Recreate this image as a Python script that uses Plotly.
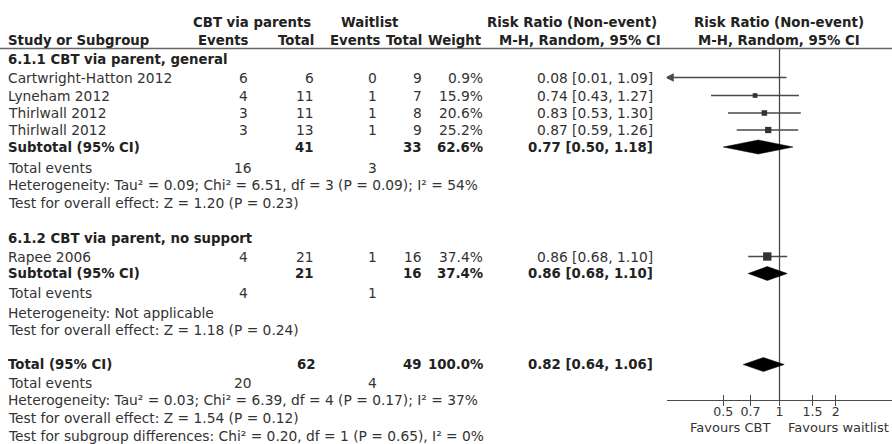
import math
import plotly.graph_objects as go

# ---------------- data ----------------
group_titles = ["6.1.1 CBT via parent, general", "6.1.2 CBT via parent, no support"]
studies = ["Cartwright-Hatton 2012", "Lyneham 2012", "Thirlwall 2012", "Thirlwall 2012", "Rapee 2006"]
cbt_events = [6, 4, 3, 3, 4]
cbt_total = [6, 11, 11, 13, 21]
wl_events = [0, 1, 1, 1, 1]
wl_total = [9, 7, 8, 9, 16]
weights = [0.9, 15.9, 20.6, 25.2, 37.4]
rr = [0.08, 0.74, 0.83, 0.87, 0.86]
rr_lo = [0.01, 0.43, 0.53, 0.59, 0.68]
rr_hi = [1.09, 1.27, 1.30, 1.26, 1.10]

sub_cbt_total = [41, 21]
sub_wl_total = [33, 16]
sub_weight = [62.6, 37.4]
sub_rr = [0.77, 0.86]
sub_lo = [0.50, 0.68]
sub_hi = [1.18, 1.10]
sub_cbt_events = [16, 4]
sub_wl_events = [3, 1]
sub_het = ["Heterogeneity: Tau² = 0.09; Chi² = 6.51, df = 3 (P = 0.09); I² = 54%",
           "Heterogeneity: Not applicable"]
sub_test = ["Test for overall effect: Z = 1.20 (P = 0.23)",
            "Test for overall effect: Z = 1.18 (P = 0.24)"]

tot_cbt_total = 62
tot_wl_total = 49
tot_weight = 100.0
tot_rr, tot_lo, tot_hi = 0.82, 0.64, 1.06
tot_cbt_events = 20
tot_wl_events = 4
tot_het = "Heterogeneity: Tau² = 0.03; Chi² = 6.39, df = 4 (P = 0.17); I² = 37%"
tot_test = "Test for overall effect: Z = 1.54 (P = 0.12)"
tot_subgroup = "Test for subgroup differences: Chi² = 0.20, df = 1 (P = 0.65), I² = 0%"

tick_vals = [0.5, 0.7, 1, 1.5, 2]
tick_text = ["0.5", "0.7", "1", "1.5", "2"]
favours = ["Favours CBT", "Favours waitlist"]
axis_range = [0.25, 4]

# ---------------- layout (pixel rows / columns) ----------------
W, H = 892, 444
FONT = "DejaVu Sans"
FS = 13.8
FSB = 13.3
FS_TICK = 12.6
C_TXT = "#333333"
C_BOLD = "#222222"
C_LINE = "#4a4a4a"

study_y = [77.5, 95.5, 113, 130, 256.5]
group_title_y = [59, 238]
sub_y = [147, 273.5]
sub_events_y = [168, 293]
sub_het_y = [185, 313]
sub_test_y = [203, 330]
total_y = 364.5
total_events_y = 383
total_het_y = 400
total_test_y = 418
total_sub_y = 436
axis_y = 400
header_line_y = 48.5
favours_y = 427.5

col_study = 6
col_cbt_ev = 243      # centered
col_cbt_tot = 316     # right
col_wl_ev = 372       # centered
col_wl_tot = 424      # right
col_weight = 485      # right
col_rr = 655          # right

ann = []


def txt(x, y, s, anchor="left", bold=False, color=None):
    ann.append(dict(
        x=x, y=y, xref="x2", yref="y2", text=("<b>%s</b>" % s) if bold else s,
        showarrow=False, xanchor=anchor, yanchor="middle",
        font=dict(family=FONT, size=FSB if bold else FS,
                  color=color or (C_BOLD if bold else C_TXT)),
    ))


# headers
txt(252, 22, "CBT via parents", "center", True)
txt(370, 22, "Waitlist", "center", True)
txt(572, 22, "Risk Ratio (Non-event)", "center", True)
txt(779, 22, "Risk Ratio (Non-event)", "center", True)
txt(col_study, 40, "Study or Subgroup", "left", True)
txt(251, 40, "Events", "right", True)
txt(316, 40, "Total", "right", True)
txt(383, 40, "Events", "right", True)
txt(424, 40, "Total", "right", True)
txt(484, 40, "Weight", "right", True)
txt(580, 40, "M-H, Random, 95% CI", "center", True)
txt(779, 40, "M-H, Random, 95% CI", "center", True)

for g, t in enumerate(group_titles):
    txt(col_study, group_title_y[g], t, "left", True)

for i, s in enumerate(studies):
    y = study_y[i]
    txt(col_study, y, s)
    txt(col_cbt_ev, y, str(cbt_events[i]), "center")
    txt(col_cbt_tot, y, str(cbt_total[i]), "right")
    txt(col_wl_ev, y, str(wl_events[i]), "center")
    txt(col_wl_tot, y, str(wl_total[i]), "right")
    txt(col_weight, y, "%.1f%%" % weights[i], "right")
    txt(col_rr, y, "%.2f [%.2f, %.2f]" % (rr[i], rr_lo[i], rr_hi[i]), "right")

for g in range(2):
    y = sub_y[g]
    txt(col_study, y, "Subtotal (95% CI)", "left", True)
    txt(col_cbt_tot, y, str(sub_cbt_total[g]), "right", True)
    txt(col_wl_tot, y, str(sub_wl_total[g]), "right", True)
    txt(col_weight, y, "%.1f%%" % sub_weight[g], "right", True)
    txt(col_rr, y, "%.2f [%.2f, %.2f]" % (sub_rr[g], sub_lo[g], sub_hi[g]), "right", True)
    txt(col_study, sub_events_y[g], "Total events")
    txt(col_cbt_ev, sub_events_y[g], str(sub_cbt_events[g]), "center")
    txt(col_wl_ev, sub_events_y[g], str(sub_wl_events[g]), "center")
    txt(col_study, sub_het_y[g], sub_het[g])
    txt(col_study, sub_test_y[g], sub_test[g])

txt(col_study, total_y, "Total (95% CI)", "left", True)
txt(col_cbt_tot + 2, total_y, str(tot_cbt_total), "right", True)
txt(col_wl_tot, total_y, str(tot_wl_total), "right", True)
txt(col_weight, total_y, "%.1f%%" % tot_weight, "right", True)
txt(col_rr, total_y, "%.2f [%.2f, %.2f]" % (tot_rr, tot_lo, tot_hi), "right", True)
txt(col_study, total_events_y, "Total events")
txt(col_cbt_ev, total_events_y, str(tot_cbt_events), "center")
txt(col_wl_ev, total_events_y, str(tot_wl_events), "center")
txt(col_study, total_het_y, tot_het)
txt(col_study, total_test_y, tot_test)
txt(col_study, total_sub_y, tot_subgroup)

ann.append(dict(x=730, y=favours_y, xref="x2", yref="y2", text=favours[0],
                showarrow=False, xanchor="center", yanchor="middle",
                font=dict(family=FONT, size=FS_TICK + 0.4, color=C_TXT)))
ann.append(dict(x=838, y=favours_y, xref="x2", yref="y2", text=favours[1],
                showarrow=False, xanchor="center", yanchor="middle",
                font=dict(family=FONT, size=FS_TICK + 0.4, color=C_TXT)))

fig = go.Figure()

# line of no effect
fig.add_trace(go.Scatter(x=[1, 1], y=[header_line_y, axis_y], mode="lines",
                         line=dict(color=C_LINE, width=1.3), hoverinfo="skip",
                         cliponaxis=False))

# study CIs and squares
lo_lim, hi_lim = axis_range
for i in range(len(studies)):
    y = study_y[i]
    lo = max(rr_lo[i], lo_lim)
    hi = min(rr_hi[i], hi_lim)
    fig.add_trace(go.Scatter(x=[lo, hi], y=[y, y], mode="lines",
                             line=dict(color=C_LINE, width=1.3), hoverinfo="skip",
                             cliponaxis=False))
    if rr_lo[i] < lo_lim:
        fig.add_trace(go.Scatter(x=[lo_lim], y=[y], mode="markers",
                                 marker=dict(symbol="arrow-left", size=6, color=C_LINE,
                                             line=dict(width=1.5, color=C_LINE)),
                                 hoverinfo="skip", cliponaxis=False))
    if lo_lim <= rr[i] <= hi_lim:
        fig.add_trace(go.Scatter(x=[rr[i]], y=[y], mode="markers",
                                 marker=dict(symbol="square", size=2 + 0.17 * weights[i],
                                             color="#333333", line=dict(width=0)),
                                 hoverinfo="skip"))


def diamond(est, lo, hi, y, half=7):
    fig.add_trace(go.Scatter(x=[lo, est, hi, est, lo], y=[y, y - half, y, y + half, y],
                             mode="lines", fill="toself", fillcolor="black",
                             line=dict(color="black", width=0.5), hoverinfo="skip",
                             cliponaxis=False))


for g in range(2):
    diamond(sub_rr[g], sub_lo[g], sub_hi[g], sub_y[g])
diamond(tot_rr, tot_lo, tot_hi, total_y)

# header line
shapes = [dict(type="line", xref="paper", yref="y2", x0=0, x1=1,
               y0=header_line_y, y1=header_line_y,
               line=dict(color="#666666", width=1.6))]

dom = [667 / W, 1]
pos = (H - axis_y) / H
lr = [math.log10(axis_range[0]), math.log10(axis_range[1])]
common_x = dict(type="log", range=lr, domain=dom, anchor="y",
                tickvals=tick_vals, showgrid=False, zeroline=False,
                tickcolor=C_LINE, tickwidth=1.2, ticklen=5)
fig.update_layout(
    width=W, height=H, margin=dict(l=0, r=0, t=0, b=0, pad=0),
    paper_bgcolor="white", plot_bgcolor="rgba(0,0,0,0)", showlegend=False,
    annotations=ann, shapes=shapes,
    xaxis=dict(**common_x, showline=True, linecolor=C_LINE, linewidth=1.2,
               ticks="inside", ticktext=tick_text,
               tickfont=dict(family=FONT, size=FS_TICK, color=C_TXT)),
    xaxis3=dict(**common_x, overlaying="x", showline=False, ticks="outside",
                showticklabels=False),
    yaxis=dict(range=[axis_y, 0], domain=[pos, 1], anchor="x", visible=False),
    xaxis2=dict(range=[0, W], domain=[0, 1], anchor="y2", visible=False),
    yaxis2=dict(range=[H, 0], domain=[0, 1], anchor="x2", visible=False),
)
# invisible traces to activate the helper axes
fig.add_trace(go.Scatter(x=[0], y=[0], xaxis="x2", yaxis="y2", mode="markers",
                         marker=dict(opacity=0), hoverinfo="skip"))
fig.add_trace(go.Scatter(x=[1], y=[10], xaxis="x3", yaxis="y", mode="markers",
                         marker=dict(opacity=0), hoverinfo="skip"))

fig.write_html("out.html", config={"displayModeBar": False},
               post_script="document.body.style.margin='0';")
